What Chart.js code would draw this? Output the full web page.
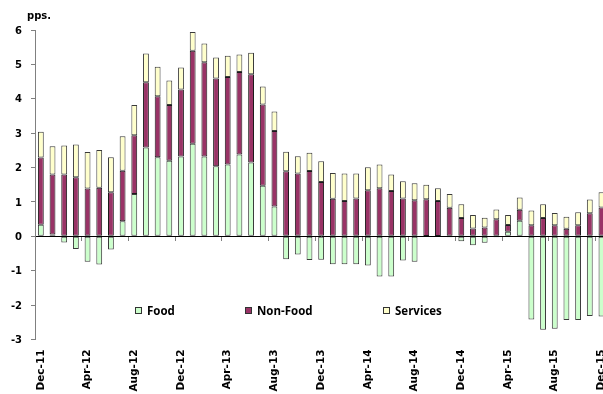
<!DOCTYPE html>
<html>
<head>
<meta charset="utf-8">
<title>Inflation composition</title>
<script src="https://cdn.jsdelivr.net/npm/chart.js@4.4.1/dist/chart.umd.min.js"></script>
<style>
  html, body { margin: 0; padding: 0; background: #fff; overflow: hidden; }
  #wrap { position: relative; width: 603px; height: 394px; overflow: hidden; }
  #chart { position: absolute; left: 0; top: 0; }
  .unit { position: absolute; left: 27px; top: 11px; font: bold 10px "DejaVu Sans"; line-height: 10px; color: #000; }
  .legend-item { position: absolute; top: 303px; height: 15px; display: flex; align-items: center;
                 font: bold 11.5px "Open Sans"; color: #000; white-space: nowrap; }
  .swatch { width: 5px; height: 5px; border: 1px solid #333; margin-right: 5px; }
</style>
</head>
<body>
<div id="wrap">
  <canvas id="chart" width="620" height="394"></canvas>
  <div class="unit">pps.</div>
  <div id="legend"></div>
</div>
<script>
// monthly contributions to headline inflation, percentage points
const months = [
  'Dec-11', 'Jan-12', 'Feb-12', 'Mar-12', 'Apr-12', 'May-12', 'Jun-12', 'Jul-12',
  'Aug-12', 'Sep-12', 'Oct-12', 'Nov-12', 'Dec-12', 'Jan-13', 'Feb-13', 'Mar-13',
  'Apr-13', 'May-13', 'Jun-13', 'Jul-13', 'Aug-13', 'Sep-13', 'Oct-13', 'Nov-13',
  'Dec-13', 'Jan-14', 'Feb-14', 'Mar-14', 'Apr-14', 'May-14', 'Jun-14', 'Jul-14',
  'Aug-14', 'Sep-14', 'Oct-14', 'Nov-14', 'Dec-14', 'Jan-15', 'Feb-15', 'Mar-15',
  'Apr-15', 'May-15', 'Jun-15', 'Jul-15', 'Aug-15', 'Sep-15', 'Oct-15', 'Nov-15',
  'Dec-15'
];

const food = [
  0.34, 0.05, -0.18, -0.37, -0.74, -0.82, -0.38, 0.44,
  1.23, 2.58, 2.30, 2.20, 2.32, 2.69, 2.32, 2.04,
  2.09, 2.38, 2.15, 1.47, 0.87, -0.67, -0.53, -0.69,
  -0.68, -0.81, -0.81, -0.81, -0.85, -1.17, -1.17, -0.70,
  -0.74, 0.01, 0.01, -0.03, -0.14, -0.26, -0.19, -0.03,
  0.13, 0.45, -2.42, -2.72, -2.69, -2.43, -2.43, -2.32,
  -2.33
];

const nonFood = [
  1.95, 1.75, 1.80, 1.72, 1.39, 1.41, 1.28, 1.47,
  1.71, 1.90, 1.77, 1.62, 1.95, 2.71, 2.74, 2.55,
  2.54, 2.40, 2.56, 2.36, 2.19, 1.89, 1.83, 1.90,
  1.58, 1.09, 1.03, 1.10, 1.34, 1.40, 1.32, 1.10,
  1.05, 1.07, 1.02, 0.83, 0.53, 0.23, 0.26, 0.50,
  0.20, 0.32, 0.32, 0.53, 0.32, 0.22, 0.32, 0.67,
  0.84
];

const services = [
  0.75, 0.82, 0.84, 0.95, 1.06, 1.10, 1.02, 1.00,
  0.88, 0.84, 0.86, 0.71, 0.64, 0.54, 0.55, 0.61,
  0.62, 0.51, 0.63, 0.53, 0.57, 0.57, 0.50, 0.53,
  0.60, 0.75, 0.80, 0.73, 0.67, 0.69, 0.48, 0.50,
  0.49, 0.42, 0.37, 0.40, 0.40, 0.39, 0.28, 0.28,
  0.29, 0.36, 0.43, 0.40, 0.36, 0.35, 0.38, 0.40,
  0.44
];

const yMin = -3;
const yMax = 6;
const labelEvery = 4;

const series = [
  { label: 'Food', data: food, color: '#ccffcc', border: '#3a3a3a' },
  { label: 'Non-Food', data: nonFood, color: '#993366', border: '#1a1a1a' },
  { label: 'Services', data: services, color: '#ffffcc', border: '#3a3a3a' }
];
const legendLeft = [135, 245, 383];

const axisFont = { family: 'DejaVu Sans', size: 10, weight: 'bold' };

new Chart(document.getElementById('chart'), {
  type: 'bar',
  data: {
    labels: months,
    datasets: series.map(s => ({
      label: s.label,
      data: s.data,
      backgroundColor: s.color,
      borderColor: s.border,
      borderWidth: 1,
      borderSkipped: false,
      barPercentage: 0.5,
      categoryPercentage: 1.0
    }))
  },
  options: {
    responsive: false,
    animation: false,
    layout: { padding: { top: 30, right: 12.7, bottom: 0, left: 0 } },
    plugins: { legend: { display: false }, tooltip: { enabled: false } },
    scales: {
      // category axis sitting on the zero line, only tick marks every 4 months
      x: {
        stacked: true,
        offset: true,
        position: { y: 0 },
        ticks: { display: false },
        grid: {
          offset: true,
          drawOnChartArea: false,
          tickLength: 4,
          color: ctx => ctx.index % labelEvery === 0 ? '#808080' : 'rgba(0,0,0,0)'
        },
        border: { color: '#000', width: 1 }
      },
      // month labels along the bottom
      x2: {
        type: 'category',
        position: 'bottom',
        offset: true,
        grid: { display: false, drawTicks: false },
        border: { display: false },
        ticks: {
          autoSkip: false,
          minRotation: 90,
          maxRotation: 90,
          padding: 10,
          color: '#000',
          font: { family: 'DejaVu Sans', size: 10.5, weight: 'bold' },
          callback: (v, i) => i % labelEvery === 0 ? months[i] : ''
        },
        afterFit: axis => {
          axis.height = 54.5;
          // let the last label run off the edge instead of squeezing the plot
          axis.paddingLeft = 0;
          axis.paddingRight = 0;
        }
      },
      y: {
        stacked: true,
        min: yMin,
        max: yMax,
        ticks: { stepSize: 1, color: '#000', font: axisFont, padding: 9, labelOffset: 1 },
        grid: { drawOnChartArea: false, tickLength: 4, color: '#808080' },
        border: { color: '#808080', width: 1 },
        afterFit: axis => { axis.width = 35; }
      }
    }
  }
});

// legend laid out inside the plot, below the zero line
const legend = document.getElementById('legend');
series.forEach((s, i) => {
  const item = document.createElement('div');
  item.className = 'legend-item';
  item.style.left = legendLeft[i] + 'px';
  const sw = document.createElement('span');
  sw.className = 'swatch';
  sw.style.background = s.color;
  item.appendChild(sw);
  item.appendChild(document.createTextNode(s.label));
  legend.appendChild(item);
});
</script>
</body>
</html>
